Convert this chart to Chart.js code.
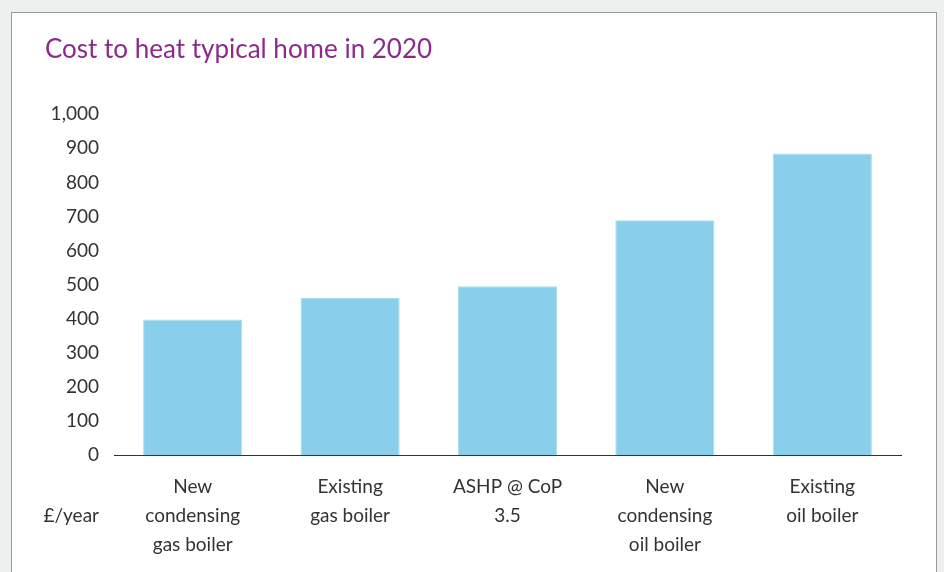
<!DOCTYPE html>
<html>
<head>
<meta charset="utf-8">
<script src="https://cdn.jsdelivr.net/npm/chart.js@4"></script>
<style>
  html, body { margin: 0; padding: 0; background: #eef0ef; overflow: hidden; }
  .panel {
    position: absolute; left: 11px; top: 12px; width: 924px; height: 580px;
    background: #fff; border: 1px solid #9a9a9a; border-bottom: none; overflow: hidden;
  }
  .panel canvas { position: absolute; left: 0; top: 0; }
</style>
</head>
<body>
<div class="panel">
  <canvas id="heatChart" width="924" height="576"></canvas>
</div>
<script>
const categories = [
  ["New", "condensing", "gas boiler"],
  ["Existing", "gas boiler"],
  ["ASHP @ CoP", "3.5"],
  ["New", "condensing", "oil boiler"],
  ["Existing", "oil boiler"]
];
const costs = [398, 461, 496, 689, 885];
const yTicks = [0, 100, 200, 300, 400, 500, 600, 700, 800, 900, 1000];

const FONT = "Lato, 'Noto Sans', sans-serif";
const textColor = "#333333";

// "£/year" unit label, sits beside the category labels
const unitLabel = {
  id: "unitLabel",
  afterDraw(chart) {
    const ctx = chart.ctx;
    const area = chart.chartArea;
    ctx.save();
    ctx.font = "19px " + FONT;
    ctx.fillStyle = textColor;
    ctx.textAlign = "right";
    ctx.textBaseline = "middle";
    ctx.fillText("£/year", area.left - 15, area.bottom + 61);
    ctx.restore();
  }
};

const ctx = document.getElementById("heatChart").getContext("2d");
new Chart(ctx, {
  type: "bar",
  data: {
    labels: categories,
    datasets: [{
      data: costs,
      backgroundColor: "#89cfeb",
      borderColor: "#a9dcf0",
      borderWidth: 1,
      barPercentage: 0.63,
      categoryPercentage: 1
    }]
  },
  options: {
    responsive: false,
    animation: false,
    layout: { padding: { left: 33, right: 35, top: 0, bottom: 13 } },
    plugins: {
      legend: { display: false },
      tooltip: { enabled: false },
      title: {
        display: true,
        text: "Cost to heat typical home in 2020",
        align: "start",
        color: "#8b2b8c",
        font: { family: FONT, size: 26, weight: "normal" },
        padding: { top: 21, bottom: 49 }
      }
    },
    scales: {
      x: {
        grid: { display: false, drawTicks: false },
        border: { display: true, color: "#333333", width: 1 },
        ticks: {
          color: textColor,
          font: { family: FONT, size: 19, lineHeight: 1.52 },
          padding: 17,
          maxRotation: 0
        }
      },
      y: {
        min: 0,
        max: 1000,
        afterBuildTicks(axis) {
          axis.ticks = yTicks.map(v => ({ value: v }));
        },
        afterFit(axis) { axis.width = 69; },
        grid: { display: false, drawTicks: false },
        border: { display: false },
        ticks: {
          color: textColor,
          font: { family: FONT, size: 19 },
          padding: 15,
          callback: v => v.toLocaleString("en-GB")
        }
      }
    }
  },
  plugins: [unitLabel]
});
</script>
</body>
</html>
